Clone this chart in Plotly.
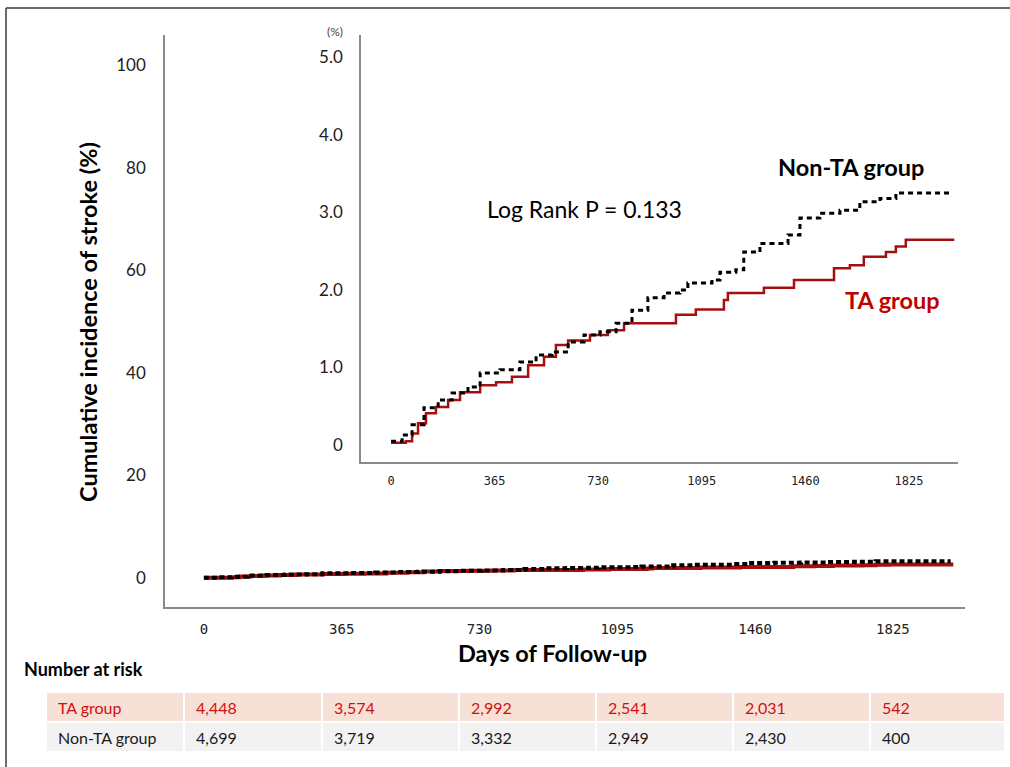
import plotly.graph_objects as go

# ---------------- data ----------------
day_ticks = [0, 365, 730, 1095, 1460, 1825]
main_y_ticks = [0, 20, 40, 60, 80, 100]
inset_y_ticks = [0, 1, 2, 3, 4, 5]
inset_y_text = ["0", "1.0", "2.0", "3.0", "4.0", "5.0"]

nonta_days = [0, 39, 74, 116, 166, 215, 271, 314, 384, 454, 511, 567, 624, 680, 736, 793,
              849, 905, 962, 1018, 1046, 1131, 1159, 1215, 1243, 1300, 1399, 1441, 1511,
              1582, 1652, 1723, 1779, 1978]
nonta_inc = [0.05, 0.13, 0.26, 0.48, 0.58, 0.67, 0.75, 0.93, 0.97, 1.07, 1.16, 1.20, 1.33,
             1.42, 1.46, 1.57, 1.74, 1.90, 1.96, 2.00, 2.09, 2.13, 2.23, 2.26, 2.49, 2.60,
             2.71, 2.93, 2.99, 3.03, 3.14, 3.18, 3.25, 3.25]

ta_days = [0, 52, 74, 95, 123, 158, 201, 243, 314, 370, 426, 483, 539, 581, 624, 701, 764,
           821, 1004, 1074, 1173, 1187, 1314, 1420, 1561, 1617, 1666, 1744, 1779, 1814, 1985]
ta_inc = [0.03, 0.05, 0.15, 0.28, 0.41, 0.49, 0.58, 0.68, 0.77, 0.81, 0.88, 1.03, 1.14, 1.29,
          1.35, 1.42, 1.48, 1.57, 1.68, 1.75, 1.87, 1.96, 2.03, 2.13, 2.28, 2.32, 2.43, 2.49,
          2.56, 2.65, 2.65]

risk_groups = ["TA group", "Non-TA group"]
risk_ta = ["4,448", "3,574", "2,992", "2,541", "2,031", "542"]
risk_nonta = ["4,699", "3,719", "3,332", "2,949", "2,430", "400"]

# ---------------- style ----------------
W, H = 1010, 767
RED_LINE = "#A50F0F"
RED_TEXT = "#C00000"
TXT = "Lato, 'Open Sans', sans-serif"
MONO = "'DejaVu Sans Mono', monospace"
AX = "#8a8a8a"


def px(x):
    return x / W


def py(y):
    return 1 - y / H


fig = go.Figure()

# main panel curves
fig.add_trace(go.Scatter(x=ta_days, y=ta_inc, mode="lines", line=dict(color=RED_LINE, width=4, shape="hv"),
                         xaxis="x", yaxis="y", hoverinfo="skip"))
fig.add_trace(go.Scatter(x=nonta_days, y=nonta_inc, mode="lines",
                         line=dict(color="black", width=4, shape="hv", dash="5px,3px"),
                         xaxis="x", yaxis="y", hoverinfo="skip"))
# inset curves
fig.add_trace(go.Scatter(x=ta_days, y=ta_inc, mode="lines", line=dict(color=RED_LINE, width=2.5, shape="hv"),
                         xaxis="x2", yaxis="y2", hoverinfo="skip"))
fig.add_trace(go.Scatter(x=nonta_days, y=nonta_inc, mode="lines",
                         line=dict(color="black", width=3, shape="hv", dash="5px,4px"),
                         xaxis="x2", yaxis="y2", hoverinfo="skip"))

common = dict(showgrid=False, zeroline=False, showline=True, linecolor=AX, linewidth=1.5, ticks="")

fig.update_layout(
    width=W, height=767, margin=dict(l=0, r=0, t=0, b=0),
    paper_bgcolor="white", plot_bgcolor="white", showlegend=False,
    xaxis=dict(domain=[px(165), px(965)], range=[-103, 2016], tickvals=day_ticks,
               tickfont=dict(family=MONO, size=14, color="#222"), ticklabelstandoff=8,
               anchor="y", **common),
    yaxis=dict(domain=[py(607), py(35)], range=[-5.66, 105.95], tickvals=main_y_ticks,
               tickfont=dict(family=TXT, size=17, color="#222"), ticklabelstandoff=14,
               anchor="x", **common),
    xaxis2=dict(domain=[px(361), px(958)], range=[-106, 1998], tickvals=day_ticks,
                tickfont=dict(family=MONO, size=12, color="#222"), ticklabelstandoff=7,
                anchor="y2", **common),
    yaxis2=dict(domain=[py(462), py(35)], range=[-0.219, 5.29], tickvals=inset_y_ticks,
                ticktext=inset_y_text, tickfont=dict(family=TXT, size=17, color="#222"),
                ticklabelstandoff=13, anchor="x2", **common),
)

ann = []


def text(x, y, s, size, color="black", bold=False, xanchor="center", angle=0, family=TXT):
    ann.append(dict(x=px(x), y=py(y), xref="paper", yref="paper", text=(f"<b>{s}</b>" if bold else s),
                    showarrow=False, xanchor=xanchor, yanchor="middle", textangle=angle,
                    font=dict(family=family, size=size, color=color)))


text(88, 322, "Cumulative incidence of stroke (%)", 23.5, bold=True, angle=-90)
text(552, 653, "Days of Follow-up", 23.5, bold=True)
text(22, 669, "Number at risk", 18, bold=True, xanchor="left")
text(851, 167, "Non-TA group", 23.5, bold=True)
text(892, 300, "TA group", 23.5, color=RED_TEXT, bold=True)
text(584, 209, "Log Rank P = 0.133", 23)
text(335, 32, "(%)", 12, color="#444")

# number-at-risk table
col_edges = [46, 184, 322, 459, 596, 733, 870, 1005]
row_edges = [692, 722, 752]
row_fill = ["#F7E1D7", "#F2F2F2"]
row_color = ["#D01010", "#1a1a1a"]
rows = [[risk_groups[0]] + risk_ta, [risk_groups[1]] + risk_nonta]

shapes = []
for r, vals in enumerate(rows):
    for c, v in enumerate(vals):
        shapes.append(dict(type="rect", xref="paper", yref="paper",
                           x0=px(col_edges[c] + 1), x1=px(col_edges[c + 1] - 1),
                           y0=py(row_edges[r + 1] - 1), y1=py(row_edges[r] + 1),
                           fillcolor=row_fill[r], line=dict(width=0), layer="below"))
        text(col_edges[c] + 10, (row_edges[r] + row_edges[r + 1]) / 2, v, 16,
             color=row_color[r], xanchor="left")

# outer frame lines
shapes.append(dict(type="line", xref="paper", yref="paper", x0=px(6), x1=1, y0=py(8), y1=py(8),
                   line=dict(color="#3a3a3a", width=1.5)))
shapes.append(dict(type="line", xref="paper", yref="paper", x0=px(6), x1=px(6), y0=py(8), y1=0,
                   line=dict(color="#3a3a3a", width=1.5)))

fig.update_layout(annotations=ann, shapes=shapes)
fig.write_html("out.html")
